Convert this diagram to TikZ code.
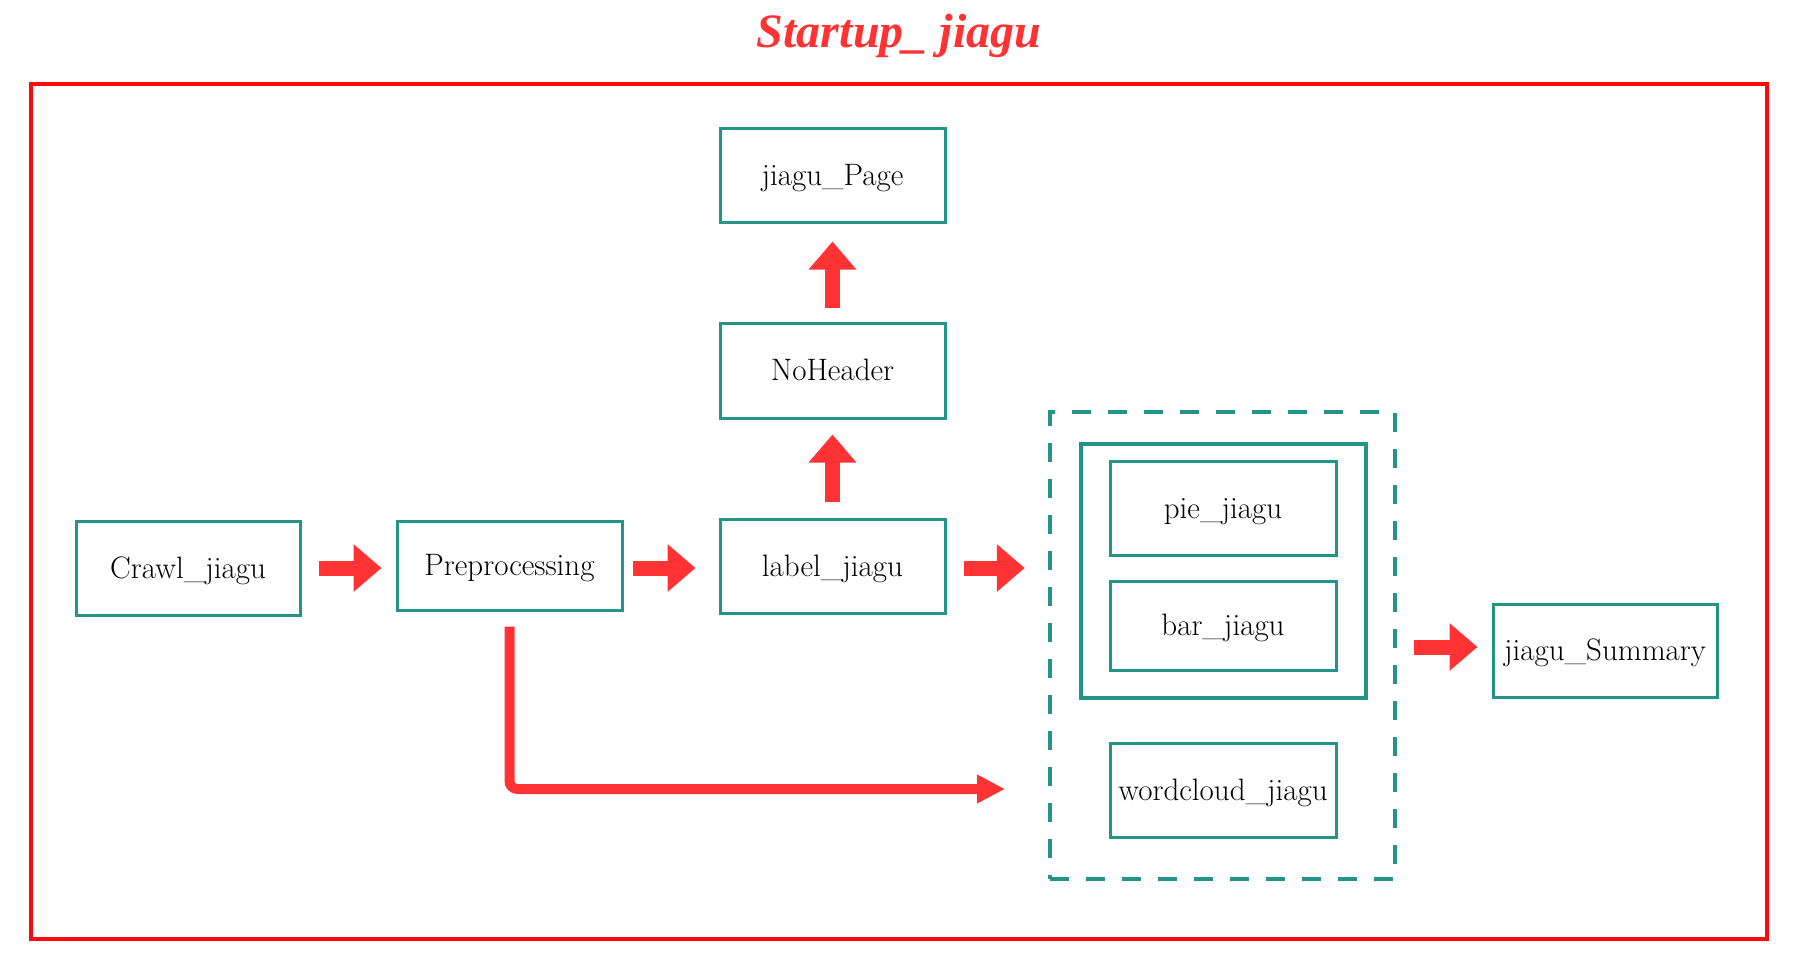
\documentclass[tikz,border=0pt]{standalone}
\usepackage{fontspec}
\usepackage{xcolor}
\usepackage{tikz}
\usetikzlibrary{arrows.meta}
\newfontfamily\titlefont{Liberation Serif}
\definecolor{boxteal}{RGB}{36,148,136}
\definecolor{arrred}{RGB}{255,51,51}
\definecolor{frame}{RGB}{255,10,10}

\begin{document}
\begin{tikzpicture}[
  x=1pt, y=-1pt,
  every node/.style={font=\fontsize{31}{36}\selectfont},
  box/.style={draw=boxteal, line width=3pt, minimum width=225pt, minimum height=92pt, inner sep=0pt, text height=24pt, text depth=4pt, align=center},
  grpbox/.style={draw=boxteal, line width=4.5pt, inner sep=0pt},
  arr/.style={-{Triangle[length=28pt,width=46pt]}, draw=arrred, line width=15pt},
  elbow/.style={-{Triangle[length=28pt,width=27pt]}, draw=arrred, line width=10pt, rounded corners=8pt}
]
\useasboundingbox (0,0) rectangle (1796,970);
\draw[frame, line width=4pt] (31,84) rectangle (1767,939);
\node[anchor=base, text=arrred, font=\titlefont\fontsize{48}{56}\selectfont\bfseries\itshape] (title) at (899,47) {Startup\_ jiagu};

\node[box, minimum width=224pt, minimum height=94pt] (crawl) at (188,568) {Crawl\_jiagu};
\node[box, minimum height=89pt] (prep) at (509.5,565.5) {Preprocessing};
\node[box, minimum height=94pt] (label) at (832.5,566) {label\_jiagu};
\node[box, minimum height=95pt] (nohead) at (832.5,370.5) {NoHeader};
\node[box, minimum height=94pt] (page) at (832.5,175) {jiagu\_Page};

\node[grpbox, dashed, dash pattern=on 19pt off 17pt, minimum width=345pt, minimum height=467pt] (grp) at (1222.5,645.5) {};
\node[grpbox, minimum width=285pt, minimum height=254pt] (inner) at (1223.5,571) {};
\node[box, minimum width=226pt, minimum height=94pt] (pie) at (1223,508) {pie\_jiagu};
\node[box, minimum width=226pt, minimum height=89pt] (bar) at (1223,625.5) {bar\_jiagu};
\node[box, minimum width=226pt, minimum height=94pt] (cloud) at (1223,790) {wordcloud\_jiagu};
\node[box, minimum width=224pt, minimum height=93pt] (summ) at (1605,650.5) {jiagu\_Summary};
\coordinate (cloudin) at (1005,789);

\draw[arr, shorten <=17pt, shorten >=14pt] (crawl.east) -- (crawl.east -| prep.west);
\draw[arr, shorten <=9pt, shorten >=23pt] (crawl.east -| prep.east) -- (crawl.east -| label.west);
\draw[arr, shorten <=17pt, shorten >=23pt] (crawl.east -| label.east) -- (crawl.east -| grp.west);
\draw[arr, shorten <=16pt, shorten >=15pt] (label.north) -- (nohead.south);
\draw[arr, shorten <=14pt, shorten >=18pt] (nohead.north) -- (page.south);
\draw[arr, shorten <=17pt, shorten >=14pt] (grp.east |- 0,647) -- (summ.west |- 0,647);
\draw[elbow, shorten <=15pt] (prep.south) |- (cloudin);
\end{tikzpicture}
\end{document}
